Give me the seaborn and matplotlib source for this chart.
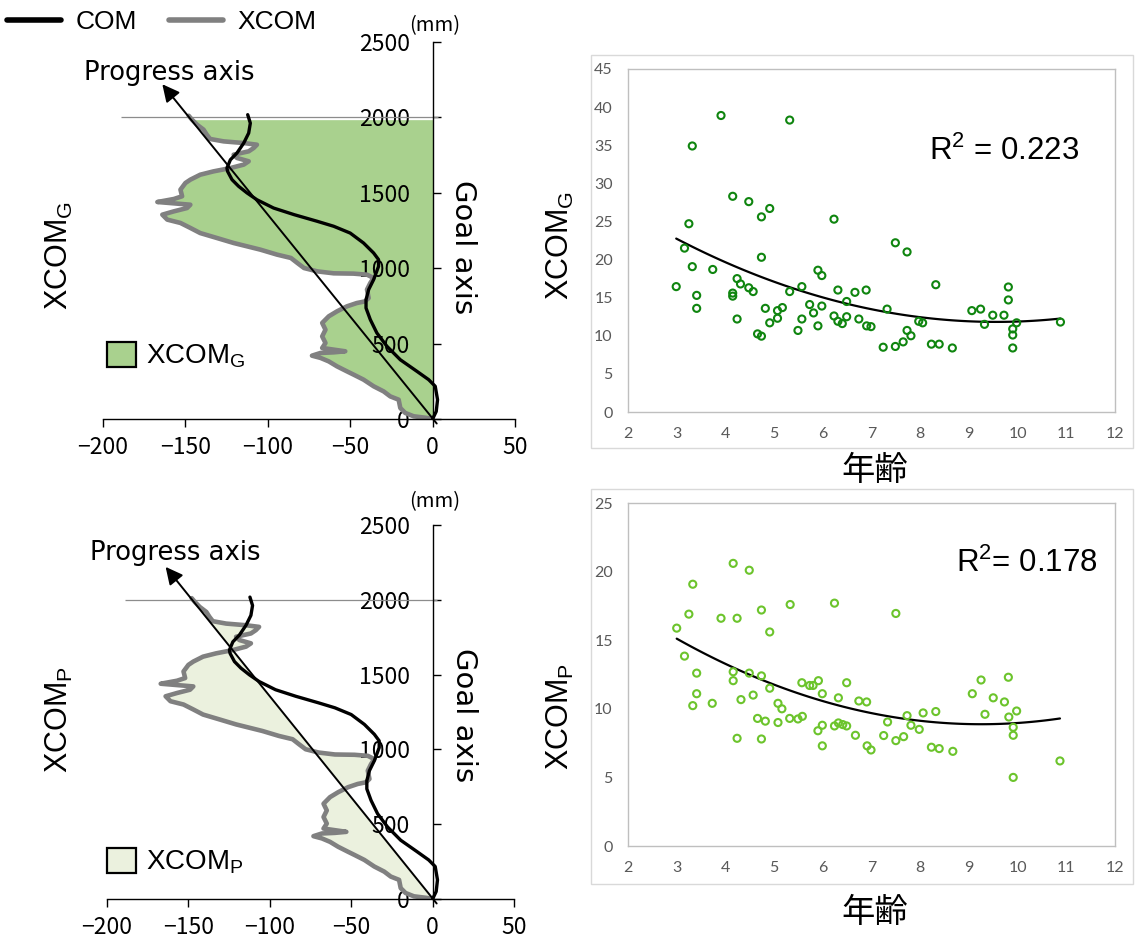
import numpy as np
import matplotlib
matplotlib.use("Agg")
import matplotlib.pyplot as plt
from matplotlib.lines import Line2D
from matplotlib.patches import Patch, Rectangle
import seaborn as sns

# ---------------------------------------------------------------- data
# Walking trajectory (mm): lateral position (x) against goal-axis distance (y)
COM_X = [0, 2.2, 3, 1.6, -2.4, -9.5, -19.6, -27.7, -33.8, -37.8, -40.4, -40.4,
         -38.8, -35.8, -32.8, -32.8, -35.8, -41.9, -50, -60, -70, -84, -96.5,
         -106.6, -112.6, -117.7, -121.7, -124.4, -124.8, -122.7, -118.7, -114.6,
         -111.6, -110.6, -112.2]
COM_Y = [0, 50, 128, 217, 261, 316, 393, 482, 570, 659, 736, 791, 858, 924,
         1012, 1057, 1101, 1167, 1233, 1278, 1311, 1355, 1399, 1454, 1499, 1543,
         1587, 1642, 1664, 1719, 1764, 1830, 1896, 1962, 2018]

XCOM_X = [0, -3.4, -11.5, -16.6, -19.6, -20.6, -25.7, -29.7, -35.8, -41.9, -47.9,
          -52, -58, -63, -68, -73.2, -68, -60, -53, -60, -67, -65, -67, -65, -67,
          -63, -58, -52, -46, -41, -38.8, -39.8, -37.8, -35.8, -39.8, -48, -60,
          -70, -78, -82, -86, -94.4, -104.5, -112.6, -120.7, -130.8, -141, -147,
          -153, -161, -164, -157, -149, -147, -167, -157, -152, -153, -150, -147,
          -141, -133, -122.7, -114.6, -111.6, -118.7, -120.7, -111.6, -108.6,
          -106.6, -114.6, -126.8, -135, -137, -139, -143, -146, -148]
XCOM_Y = [0, 7, 18, 40, 73, 128, 150, 183, 217, 261, 294, 316, 349, 382, 405,
          420, 438, 442, 449, 460, 471, 504, 548, 592, 637, 681, 714, 747, 769,
          780, 802, 858, 902, 935, 957, 964, 966, 979, 1001, 1034, 1068, 1090,
          1123, 1145, 1167, 1200, 1233, 1267, 1300, 1322, 1355, 1377, 1399, 1421,
          1439, 1459, 1477, 1521, 1565, 1587, 1620, 1642, 1664, 1687, 1709, 1731,
          1753, 1775, 1797, 1819, 1830, 1841, 1857, 1885, 1919, 1952, 1985, 2011]

GOAL_Y = 2000                  # goal line
PROGRESS_TIP = (-164, 2220)    # end of the progress axis arrow
TRAJ_XTICKS = [-200, -150, -100, -50, 0, 50]
TRAJ_YTICKS = [0, 500, 1000, 1500, 2000, 2500]

# Age (years) against XCOM area measures
AGE_G = [2.99, 3.16, 3.25, 3.32, 3.32, 3.41, 3.41, 3.74, 3.91, 4.15, 4.15, 4.15,
         4.24, 4.24, 4.31, 4.48, 4.48, 4.57, 4.66, 4.74, 4.74, 4.74, 4.82, 4.91,
         4.91, 5.07, 5.07, 5.17, 5.32, 5.32, 5.49, 5.57, 5.57, 5.73, 5.81, 5.90,
         5.90, 5.98, 5.98, 6.23, 6.23, 6.31, 6.31, 6.40, 6.49, 6.49, 6.66, 6.74,
         6.89, 6.90, 6.99, 7.24, 7.32, 7.49, 7.49, 7.65, 7.73, 7.73, 7.81, 7.97,
         8.05, 8.23, 8.32, 8.39, 8.66, 9.06, 9.24, 9.32, 9.49, 9.72, 9.81, 9.81,
         9.90, 9.90, 9.90, 9.98, 10.88]
XCOM_G = [16.45, 21.5, 24.7, 34.9, 19.07, 15.3, 13.6, 18.7, 38.9, 28.3, 15.6, 15.2,
          17.5, 12.2, 16.8, 27.6, 16.3, 15.8, 10.25, 25.6, 20.3, 9.95, 13.6, 26.7,
          11.7, 13.3, 12.3, 13.7, 38.3, 15.8, 10.7, 16.45, 12.2, 14.1, 13.0, 18.6,
          11.3, 17.9, 13.9, 25.3, 12.6, 16.0, 11.9, 11.6, 14.5, 12.5, 15.7, 12.2,
          16.0, 11.3, 11.2, 8.5, 13.5, 22.2, 8.6, 9.2, 21.0, 10.7, 10.0, 11.9,
          11.7, 8.9, 16.7, 8.9, 8.4, 13.3, 13.5, 11.5, 12.7, 12.7, 16.4, 14.7,
          10.9, 10.1, 8.4, 11.7, 11.8]

AGE_P = [3.00, 3.16, 3.25, 3.33, 3.33, 3.41, 3.41, 3.73, 3.91, 4.16, 4.16, 4.16,
         4.24, 4.24, 4.32, 4.49, 4.49, 4.57, 4.66, 4.74, 4.74, 4.74, 4.82, 4.91,
         4.91, 5.08, 5.08, 5.16, 5.33, 5.32, 5.49, 5.58, 5.57, 5.73, 5.80, 5.91,
         5.90, 5.99, 5.99, 5.99, 6.24, 6.24, 6.32, 6.32, 6.41, 6.49, 6.49, 6.67,
         6.74, 6.90, 6.91, 6.99, 7.25, 7.33, 7.50, 7.50, 7.66, 7.73, 7.81, 7.98,
         8.06, 8.23, 8.32, 8.39, 8.67, 9.07, 9.25, 9.33, 9.50, 9.73, 9.81, 9.82,
         9.91, 9.91, 9.91, 9.98, 10.87]
XCOM_P = [15.88, 13.84, 16.9, 19.08, 10.23, 12.6, 11.1, 10.4, 16.6, 20.6, 12.7,
          12.05, 16.6, 7.85, 10.67, 20.1, 12.6, 11.0, 9.3, 17.2, 12.4, 7.8, 9.1,
          15.6, 11.5, 10.4, 9.0, 10.0, 17.6, 9.3, 9.26, 9.45, 11.9, 11.7, 11.7,
          12.05, 8.4, 11.1, 8.8, 7.3, 17.7, 8.75, 10.8, 8.97, 8.85, 8.75, 11.9,
          8.07, 10.57, 10.5, 7.3, 7.0, 8.05, 9.04, 16.95, 7.68, 7.97, 9.5, 8.8,
          8.5, 9.7, 7.2, 9.8, 7.1, 6.9, 11.1, 12.1, 9.6, 10.8, 10.5, 12.3, 9.4,
          8.65, 8.07, 5.0, 9.84, 6.2]

R2_G = "0.223"
R2_P = "0.178"
AGE_TICKS = list(range(2, 13))

# ---------------------------------------------------------------- style
sns.set_style("white")
plt.rcParams["font.family"] = ["Noto Sans CJK JP", "DejaVu Sans"]
plt.rcParams["mathtext.fontset"] = "custom"
plt.rcParams["mathtext.rm"] = "Liberation Sans"
plt.rcParams["mathtext.it"] = "Liberation Sans:italic"
plt.rcParams["mathtext.bf"] = "Liberation Sans:bold"
plt.rcParams["axes.unicode_minus"] = True
for key in ("text.color", "axes.labelcolor", "xtick.color", "ytick.color", "axes.edgecolor"):
    plt.rcParams[key] = "black"

GREEN_FILL = "#a9d18e"
LIGHT_FILL = "#ebf1de"
XCOM_GRAY = "#808080"
DOT_DARK = "#0f850f"
DOT_LIGHT = "#6cc42c"

W, H = 1136, 938
fig = plt.figure(figsize=(W / 100, H / 100), dpi=100)


def fx(px):
    return px / W


def fy(py):
    return 1 - py / H


def box(left, top, right, bottom):
    return [fx(left), fy(bottom), (right - left) / W, (bottom - top) / H]


def draw_trajectory(ax, to_progress, fill_color):
    y = np.asarray(XCOM_Y, dtype=float)
    x = np.asarray(XCOM_X, dtype=float)
    if to_progress:
        ref = PROGRESS_TIP[0] / PROGRESS_TIP[1] * y
    else:
        ref = np.zeros_like(y)
    ax.fill_betweenx(y, x, ref, where=y <= GOAL_Y, color=fill_color, lw=0, zorder=1)
    ax.hlines(GOAL_Y, -189, 3, color="#8c8c8c", lw=0.9, zorder=2)
    ax.plot(XCOM_X, XCOM_Y, color=XCOM_GRAY, lw=3.3, solid_joinstyle="round",
            solid_capstyle="round", zorder=3)
    ax.annotate("", xy=PROGRESS_TIP, xytext=(2.5, -30),
                arrowprops=dict(arrowstyle="-|>", color="black", lw=1.4,
                                mutation_scale=26, shrinkA=0, shrinkB=0),
                zorder=4, annotation_clip=False)
    ax.plot(COM_X, COM_Y, color="black", lw=2.4, zorder=5)

    ax.set_xlim(-200, 50)
    ax.set_ylim(0, 2500)
    ax.set_xticks(TRAJ_XTICKS)
    ax.set_yticks(TRAJ_YTICKS)
    for side in ("top", "right"):
        ax.spines[side].set_visible(False)
    ax.spines["left"].set_position(("data", 0))
    for side in ("left", "bottom"):
        ax.spines[side].set_color("black")
        ax.spines[side].set_linewidth(1.0)
        ax.spines[side].set_zorder(6)
    ax.tick_params(axis="y", direction="in", length=6, width=1, pad=16.5,
                   labelsize=16.5, left=True)
    ax.tick_params(axis="x", direction="out", length=6, width=1, pad=6,
                   labelsize=16.5, bottom=True)
    ax.set_axisbelow("line")
    ax.patch.set_alpha(0)


def draw_scatter(ax, age, vals, color, ymax):
    sns.scatterplot(x=age, y=vals, ax=ax, marker="o", s=26, color=color,
                    facecolor="none", edgecolor=color, linewidth=1.5, zorder=3)
    sns.regplot(x=age, y=vals, ax=ax, order=2, ci=None, scatter=False,
                truncate=True, line_kws=dict(color="black", lw=1.6, zorder=2))
    ax.set_xlim(2, 12)
    ax.set_ylim(0, ymax)
    ax.set_xticks(AGE_TICKS)
    ax.set_yticks(range(0, ymax + 1, 5))
    ax.set_xlabel("")
    ax.set_ylabel("")
    for sp in ax.spines.values():
        sp.set_visible(True)
        sp.set_color("#bfbfbf")
        sp.set_linewidth(1.0)
    ax.tick_params(length=0, labelsize=11.5, colors="#595959", labelfontfamily="Lato")
    ax.tick_params(axis="x", pad=11)
    ax.tick_params(axis="y", pad=11)


# ---------------------------------------------------------------- trajectory panels
ax_g = fig.add_axes(box(103, 42, 515, 419))
draw_trajectory(ax_g, to_progress=False, fill_color=GREEN_FILL)
ax_p = fig.add_axes(box(107, 525, 514, 899))
draw_trajectory(ax_p, to_progress=True, fill_color=LIGHT_FILL)

for ax, fill, lab, y_leg in ((ax_g, GREEN_FILL, r"XCOM$_\mathrm{G}$", 356),
                             (ax_p, LIGHT_FILL, r"XCOM$_\mathrm{P}$", 862)):
    ax.legend(handles=[Patch(facecolor=fill, edgecolor="black", linewidth=1.6)],
              labels=[lab], loc="center left", bbox_to_anchor=(fx(107), fy(y_leg)),
              bbox_transform=fig.transFigure, frameon=False,
              prop={"family": "Liberation Sans", "size": 20},
              handlelength=1.05, handleheight=1.05, handletextpad=0.35,
              borderpad=0, borderaxespad=0)

# axis captions on the trajectory panels
for (px, py), (gx, gy), (mx, my), (lx, ly), lab in (
        ((84, 80), (463, 247), (435, 26), (59, 256), r"XCOM$_\mathrm{G}$"),
        ((90, 560), (464, 715), (435, 502), (59, 720), r"XCOM$_\mathrm{P}$")):
    fig.text(fx(px), fy(py), "Progress axis", fontsize=18.6, family="DejaVu Sans",
             ha="left", va="baseline")
    fig.text(fx(gx), fy(gy), "Goal axis", fontsize=21, family="DejaVu Sans",
             rotation=-90, ha="center", va="center")
    fig.text(fx(mx), fy(my), "(mm)", fontsize=14.5, ha="center", va="center")
    fig.text(fx(lx), fy(ly), lab, fontsize=22, family="Liberation Sans",
             rotation=90, ha="center", va="center")

fig.legend(handles=[Line2D([], [], color="black", lw=4),
                    Line2D([], [], color=XCOM_GRAY, lw=4)],
           labels=["COM", "XCOM"], loc="center left",
           bbox_to_anchor=(fx(7), fy(22)), ncol=2, frameon=False,
           prop={"family": "Liberation Sans", "size": 19},
           handlelength=2.05, handletextpad=0.55, columnspacing=1.2,
           borderpad=0, borderaxespad=0)

# ---------------------------------------------------------------- age scatter panels
for top, bottom in ((55, 448), (489, 884)):
    fig.add_artist(Rectangle((fx(591), fy(bottom)), (1133 - 591) / W, (bottom - top) / H,
                             transform=fig.transFigure, fill=False,
                             edgecolor="#d9d9d9", lw=1.0))

ax_sg = fig.add_axes(box(628, 69, 1115, 412))
draw_scatter(ax_sg, AGE_G, XCOM_G, DOT_DARK, 45)
ax_sp = fig.add_axes(box(628, 503, 1115, 846))
draw_scatter(ax_sp, AGE_P, XCOM_P, DOT_LIGHT, 25)

fig.text(fx(929), fy(151), r"R$^{2}$ = " + R2_G, fontsize=22.5,
         family="Liberation Sans", ha="left", va="center")
fig.text(fx(956), fy(563), r"R$^{2}$= " + R2_P, fontsize=22.5,
         family="Liberation Sans", ha="left", va="center")
for ly, ty, lab in ((246, 470, r"XCOM$_\mathrm{G}$"), (717, 912, r"XCOM$_\mathrm{P}$")):
    fig.text(fx(560), fy(ly), lab, fontsize=22, family="Liberation Sans",
             rotation=90, ha="center", va="center")
    fig.text(fx(875), fy(ty), "年齢", fontsize=24, ha="center", va="center")

fig.savefig("out.png", dpi=100)
